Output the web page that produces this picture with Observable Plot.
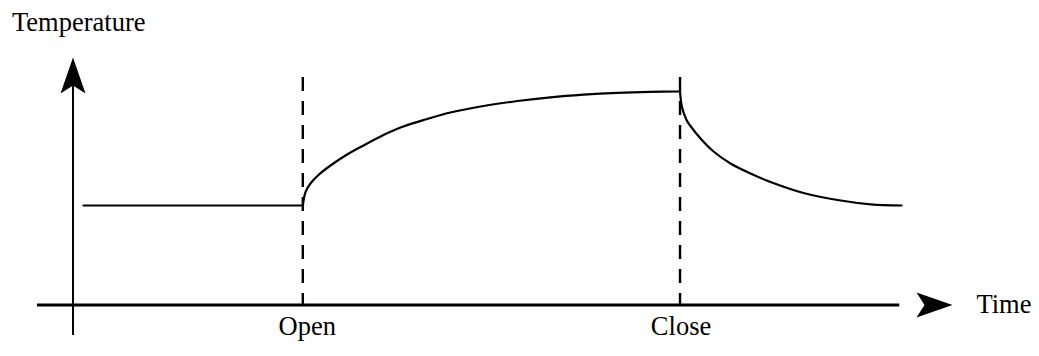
<!DOCTYPE html>
<html>
<head>
<meta charset="utf-8">
<script src="https://cdn.jsdelivr.net/npm/d3@7"></script>
<script src="https://cdn.jsdelivr.net/npm/@observablehq/plot@0.6"></script>
<style>
  html, body { margin: 0; padding: 0; background: #fff; }
  #chart svg { display: block; }
</style>
</head>
<body>
<div id="chart"></div>
<script>
// ---- data (schematic units: time 0..100, temperature 0..100) ----
const axisLabels = ["Time", "Temperature"];
const eventLabels = ["Open", "Close"];
const eventTimes = [26.13, 69.02];

const beforeTime = [1.19, 26.13];
const beforeTemp = [40.2, 40.2];

const openTime = [26.13, 26.44, 27.00, 27.91, 29.28, 30.98, 32.92, 35.30, 37.24, 40.08, 42.92, 46.67, 50.54, 54.29, 58.04, 61.91, 65.66, 69.02];
const openTemp = [40.20, 45.66, 49.09, 52.53, 56.36, 60.40, 64.24, 68.69, 71.72, 74.95, 77.78, 80.40, 82.42, 83.92, 84.97, 85.70, 86.10, 86.26];

const closeTime = [69.02, 69.24, 69.76, 70.21, 71.35, 72.83, 74.76, 77.03, 79.31, 83.06, 86.92, 90.68, 94.20];
const closeTemp = [86.26, 80.00, 74.75, 72.32, 67.27, 62.02, 57.17, 53.13, 49.70, 45.25, 42.42, 40.69, 40.20];

const xMin = -4.04, xMax = 100;
const yMin = -12.3, yMax = 100;
const dashTop = 91.92;

// ---- build table ----
const curve = [];
beforeTime.forEach((t, i) => curve.push({t, temp: beforeTemp[i], seg: "before"}));
openTime.forEach((t, i) => curve.push({t, temp: openTemp[i], seg: "open"}));
closeTime.forEach((t, i) => curve.push({t, temp: closeTemp[i], seg: "close"}));

const arrowHead = {
  draw(ctx) {
    ctx.moveTo(0, 0);
    ctx.lineTo(12.5, 36);
    ctx.lineTo(0, 28);
    ctx.lineTo(-12.5, 36);
    ctx.closePath();
  }
};
const tips = [
  {x: 0, y: yMax, rot: 0},
  {x: xMax, y: 0, rot: 90}
];

const font = "'Liberation Serif', 'Times New Roman', serif";

const chart = Plot.plot({
  width: 1039,
  height: 356,
  margin: 0,
  style: {fontFamily: font, background: "white", color: "black"},
  x: {domain: [0, 100], range: [72.5, 952], axis: null},
  y: {domain: [0, 100], range: [304.5, 57], axis: null},
  marks: [
    // axes
    Plot.ruleX([0], {y1: yMin, y2: yMax - 6, stroke: "black", strokeWidth: 2}),
    Plot.ruleY([0], {x1: xMin, x2: xMax - 6, stroke: "black", strokeWidth: 3}),
    Plot.dot(tips, {x: "x", y: "y", rotate: "rot", symbol: arrowHead, fill: "black", stroke: "none"}),
    // event lines
    Plot.ruleX(eventTimes, {y1: dashTop, y2: 0, stroke: "black", strokeWidth: 2.4, strokeDasharray: "14,10"}),
    // temperature curve
    Plot.line(curve, {x: "t", y: "temp", z: "seg", curve: "catmull-rom", stroke: "black", strokeWidth: 2.2}),
    // labels
    Plot.text([eventLabels[0]], {x: eventTimes[0], frameAnchor: "bottom", dy: -21.5, dx: 4.5, lineAnchor: "bottom", text: d => d, fontSize: 26.5, fill: "black"}),
    Plot.text([eventLabels[1]], {x: eventTimes[1], frameAnchor: "bottom", dy: -21.5, dx: 1, lineAnchor: "bottom", text: d => d, fontSize: 26.5, fill: "black"}),
    Plot.text([axisLabels[0]], {x: xMax, y: 0, dx: 24, textAnchor: "start", lineAnchor: "middle", text: d => d, fontSize: 26.5, fill: "black"}),
    Plot.text([axisLabels[1]], {frameAnchor: "top-left", dx: 11.5, dy: 30, textAnchor: "start", lineAnchor: "bottom", text: d => d, fontSize: 26.5, fill: "black"})
  ]
});
document.getElementById("chart").appendChild(chart);
</script>
</body>
</html>
